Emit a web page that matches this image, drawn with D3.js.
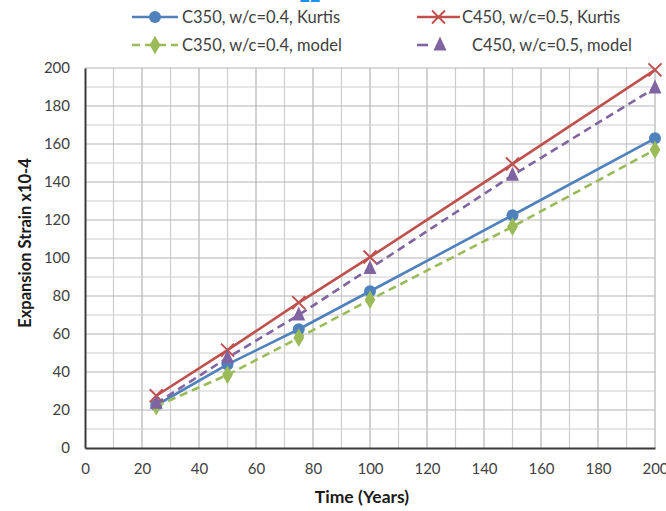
<!DOCTYPE html>
<html>
<head>
<meta charset="utf-8">
<script src="https://cdn.jsdelivr.net/npm/d3@7"></script>
<style>
  html, body { margin: 0; padding: 0; background: #fff; }
  svg { display: block; }
  text { font-family: Lato, "Open Sans", sans-serif; }
</style>
</head>
<body>
<svg id="chart" width="666" height="511"></svg>
<script>
// Expansion strain (x10^-4) over time for two concrete mixes
const years = [25, 50, 75, 100, 150, 200];
const c350Kurtis = [22.5, 44, 62.5, 82.5, 122.5, 163];
const c450Kurtis = [27.5, 51.5, 76.5, 100.5, 149.5, 199];
const c350Model  = [22, 38.5, 58, 78, 116.5, 157];
const c450Model  = [23.5, 47.5, 70, 94.5, 143.5, 189.5];

const xTicks = [0, 20, 40, 60, 80, 100, 120, 140, 160, 180, 200];
const yTicks = [0, 20, 40, 60, 80, 100, 120, 140, 160, 180, 200];
const minorTicks = d3.range(0, 201, 10);

const series = [
  { name: "C350, w/c=0.4, Kurtis", values: c350Kurtis, color: "#4f81bd", dash: null, marker: "circle" },
  { name: "C450, w/c=0.5, Kurtis", values: c450Kurtis, color: "#c0504d", dash: null, marker: "cross" },
  { name: "C350, w/c=0.4, model",  values: c350Model,  color: "#9bbb59", dash: "8,5", marker: "diamond" },
  { name: "C450, w/c=0.5, model",  values: c450Model,  color: "#8064a2", dash: "8,5", marker: "triangle" }
];

const svg = d3.select("#chart");
const x = d3.scaleLinear().domain([0, 200]).range([85, 655]);
const y = d3.scaleLinear().domain([0, 200]).range([448, 68]);

// partially visible heading fragment at the very top edge
svg.append("text")
  .attr("x", 310).attr("y", 1.5)
  .attr("text-anchor", "middle")
  .attr("fill", "#1e90e8")
  .attr("font-size", 18).attr("font-weight", "bold")
  .text("22");

// gridlines: every 10 units, slightly darker on the labelled values
const grid = svg.append("g");
grid.selectAll("line.gx").data(minorTicks.filter(d => d > 0)).join("line")
  .attr("x1", d => x(d)).attr("x2", d => x(d))
  .attr("y1", y(0)).attr("y2", y(200))
  .attr("stroke", d => d % 20 === 0 ? "#b4b4b4" : "#cdcdcd")
  .attr("stroke-width", 1.2);
grid.selectAll("line.gy").data(minorTicks.filter(d => d > 0)).join("line")
  .attr("x1", x(0)).attr("x2", x(200))
  .attr("y1", d => y(d)).attr("y2", d => y(d))
  .attr("stroke", d => d % 20 === 0 ? "#b4b4b4" : "#cdcdcd")
  .attr("stroke-width", 1.2);

// axes
const xAxis = d3.axisBottom(x).tickValues(xTicks).tickSize(0).tickPadding(15);
const yAxis = d3.axisLeft(y).tickValues(yTicks).tickSize(0).tickPadding(15);

const gx = svg.append("g").attr("transform", `translate(0,${y(0)})`).call(xAxis);
const gy = svg.append("g").attr("transform", `translate(${x(0)},0)`).call(yAxis);
[gx, gy].forEach(g => {
  g.select(".domain").attr("stroke", "#3a3a3a").attr("stroke-width", 2);
  g.selectAll("text").attr("fill", "#404040").attr("font-size", 15)
    .attr("font-family", "Lato, 'Open Sans', sans-serif");
});

// axis titles
svg.append("text")
  .attr("x", 362).attr("y", 503)
  .attr("text-anchor", "middle")
  .attr("font-size", 17.5).attr("font-weight", "bold").attr("fill", "#1a1a1a")
  .text("Time (Years)");
svg.append("text")
  .attr("transform", `translate(31,${243}) rotate(-90)`)
  .attr("text-anchor", "middle")
  .attr("font-size", 16.5).attr("font-weight", "bold").attr("fill", "#1a1a1a")
  .text("Expansion Strain x10-4");

// marker drawing
function drawMarker(g, type, color) {
  if (type === "circle") {
    g.append("circle").attr("r", 6).attr("fill", color);
  } else if (type === "cross") {
    g.append("path").attr("d", "M-6.5,-6.5L6.5,6.5M-6.5,6.5L6.5,-6.5")
      .attr("stroke", color).attr("stroke-width", 2).attr("fill", "none");
  } else if (type === "diamond") {
    g.append("path").attr("d", d3.symbol(d3.symbolDiamond, 100)())
      .attr("fill", color);
  } else if (type === "triangle") {
    g.append("path").attr("d", "M0,-8.5L6.5,5.5L-6.5,5.5Z").attr("fill", color);
  }
}

const line = d3.line().x(d => x(d[0])).y(d => y(d[1]));

// data series
series.forEach(s => {
  const pts = years.map((yr, i) => [yr, s.values[i]]);
  const g = svg.append("g");
  g.append("path")
    .attr("d", line(pts))
    .attr("fill", "none")
    .attr("stroke", s.color)
    .attr("stroke-width", 2.6)
    .attr("stroke-dasharray", s.dash);
  pts.forEach(p => {
    const m = g.append("g").attr("transform", `translate(${x(p[0])},${y(p[1])})`);
    drawMarker(m, s.marker, s.color);
  });
});

// legend
const legendItems = [
  { s: series[0], lx: 132, lw: 46, tx: 182, ty: 17 },
  { s: series[1], lx: 417, lw: 43, tx: 462, ty: 17 },
  { s: series[2], lx: 132, lw: 46, tx: 182, ty: 45 },
  { s: series[3], lx: 417, lw: 43, tx: 472, ty: 45 }
];
const legend = svg.append("g");
legendItems.forEach(it => {
  const g = legend.append("g");
  const cy = it.ty;
  if (it.s.marker === "triangle") {
    g.append("line")
      .attr("x1", it.lx).attr("x2", it.lx + 11)
      .attr("y1", cy).attr("y2", cy)
      .attr("stroke", it.s.color).attr("stroke-width", 2.6);
    const m = g.append("g").attr("transform", `translate(${it.lx + 23},${cy})`);
    drawMarker(m, it.s.marker, it.s.color);
  } else {
    g.append("line")
      .attr("x1", it.lx).attr("x2", it.lx + it.lw)
      .attr("y1", cy).attr("y2", cy)
      .attr("stroke", it.s.color).attr("stroke-width", 2.6)
      .attr("stroke-dasharray", it.s.dash);
    const m = g.append("g").attr("transform", `translate(${it.lx + it.lw / 2},${cy})`);
    drawMarker(m, it.s.marker, it.s.color);
  }
  g.append("text")
    .attr("x", it.tx).attr("y", cy + 5.5)
    .attr("font-size", 16.5).attr("fill", "#404040")
    .text(it.s.name);
});
</script>
</body>
</html>
